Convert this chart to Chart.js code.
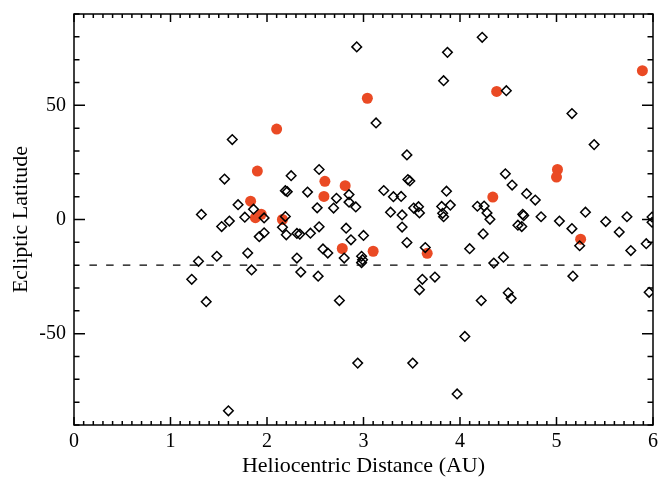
<!DOCTYPE html>
<html>
<head>
<meta charset="utf-8">
<script src="https://cdn.jsdelivr.net/npm/chart.js@4/dist/chart.umd.min.js"></script>
<style>
  html, body { margin: 0; padding: 0; background: #fff; }
  #wrap { width: 662px; height: 479px; position: relative; }
</style>
</head>
<body>
<div id="wrap"><canvas id="latChart"></canvas></div>
<script>
// comets without activity (open diamonds)
const diamondX = [1.64, 1.56, 2.25, 2.19, 2.21, 1.32, 1.70, 1.86, 1.77, 1.61, 1.53, 1.97, 2.19, 2.16, 2.20,
  1.97, 1.92, 2.31, 2.34, 2.45, 2.54, 1.48, 1.80, 1.29, 2.31, 1.84, 1.22, 2.35, 1.37, 1.60,
  2.53, 2.54, 2.42, 2.85, 2.72, 2.85, 2.92, 2.69, 2.52, 2.82, 3.00, 2.87, 2.58, 2.63, 2.80,
  2.98, 2.99, 2.98, 2.75, 2.94, 2.93, 3.13, 3.45, 3.46, 3.48, 3.21, 3.31, 3.39, 3.28, 3.40,
  3.40, 3.45, 3.52, 3.57, 3.58, 3.64, 3.61, 3.58, 3.74, 3.51, 3.87, 3.83, 3.86, 3.81, 3.90,
  3.82, 3.83, 3.97, 4.05, 4.10, 4.23, 4.18, 4.25, 4.28, 4.31, 4.24, 4.22, 4.35, 4.45, 4.47,
  4.54, 4.48, 4.50, 4.53, 4.69, 4.78, 4.65, 4.66, 4.60, 4.64, 4.84, 5.03, 5.16, 5.16, 5.39,
  5.30, 5.24, 5.17, 5.51, 5.65, 5.73, 5.77, 5.93, 5.99, 5.99, 5.96];
const diamondY = [35.0, 17.7, 19.2, 12.6, 12.2, 2.2, 6.5, 4.5, 1.0, -0.7, -3.1, 0.7, 1.3, -3.4, -6.7,
  -5.8, -7.5, -6.1, -6.4, -6.0, -3.2, -16.1, -14.7, -18.3, -16.9, -22.1, -26.2, -23.0, -36.0, -83.8,
  -24.8, 21.9, 12.0, 10.9, 9.3, 7.6, 5.5, 5.0, 5.1, -3.8, -7.0, -8.9, -12.9, -14.7, -16.9,
  -16.1, -17.6, -18.9, -35.5, -62.9, 75.6, 42.3, 28.3, 17.5, 16.9, 12.7, 10.0, 10.1, 3.2, 2.0,
  -3.3, -10.1, 5.0, 5.6, 2.9, -12.3, -26.2, -30.8, -25.2, -62.9, 73.2, 60.8, 12.4, 5.7, 6.3,
  2.7, 1.2, -76.4, -51.2, -12.8, 79.8, 5.8, 5.9, 2.9, 0.1, -6.3, -35.5, -19.1, -16.5, 20.0,
  15.1, 56.4, -32.1, -34.5, 11.3, 8.5, 2.3, 1.7, -2.5, -3.1, 1.2, -0.7, -4.0, 46.4, 32.8,
  3.2, -11.5, -24.8, -0.9, -5.5, 1.2, -13.6, -10.6, 1.1, -1.2, -31.9];

// active comets (filled red circles)
const redX = [1.90, 1.83, 1.94, 1.88, 2.10, 3.04, 2.60, 2.59, 2.81, 2.16, 2.78, 3.10, 3.66, 4.38, 5.89, 5.01, 5.00, 4.34, 5.25];
const redY = [21.2, 8.0, 2.3, 0.8, 39.6, 53.1, 16.7, 10.1, 14.8, 0.0, -12.7, -13.9, -14.8, 56.1, 65.2, 21.9, 18.6, 9.8, -8.6];

const cutLatitude = -20;
const cutRange = [0.16, 6];

const xTickValues = [0, 1, 2, 3, 4, 5, 6];
const yTickValues = [-50, 0, 50];
const xLimits = [0, 6];
const yLimits = [-90, 90];

const fontFamily = "'Liberation Serif', 'Times New Roman', serif";

// IDL style frame: box with inward major/minor ticks on all four sides
const frameTicks = {
    id: 'frameTicks',
    afterDraw(chart) {
        const { ctx, chartArea: a, scales: { x, y } } = chart;
        ctx.save();
        ctx.strokeStyle = '#000';
        ctx.lineWidth = 1.5;
        ctx.strokeRect(a.left, a.top, a.right - a.left, a.bottom - a.top);

        ctx.beginPath();
        // x ticks, minor every 0.1
        for (let i = 0; i <= 60; i++) {
            const v = i / 10;
            const px = x.getPixelForValue(v);
            const len = (i % 10 === 0) ? 8 : 4;
            ctx.moveTo(px, a.bottom); ctx.lineTo(px, a.bottom - len);
            ctx.moveTo(px, a.top); ctx.lineTo(px, a.top + len);
        }
        // y ticks, minor every 10
        for (let v = -90; v <= 90; v += 10) {
            const py = y.getPixelForValue(v);
            const len = (v % 50 === 0) ? 11 : 5.5;
            ctx.moveTo(a.left, py); ctx.lineTo(a.left + len, py);
            ctx.moveTo(a.right, py); ctx.lineTo(a.right - len, py);
        }
        ctx.stroke();
        ctx.restore();
    }
};

const ctx = document.getElementById('latChart').getContext('2d');
new Chart(ctx, {
    type: 'scatter',
    data: {
        datasets: [{
            type: 'line',
            label: 'cut',
            data: cutRange.map(v => ({ x: v, y: cutLatitude })),
            borderColor: '#000',
            borderWidth: 1.3,
            borderDash: [7.5, 9.2],
            pointRadius: 0,
            fill: false
        }, {
            label: 'inactive',
            data: diamondX.map((v, i) => ({ x: v, y: diamondY[i] })),
            pointStyle: 'rectRot',
            pointRadius: 4.8,
            pointBorderWidth: 1.5,
            borderColor: '#000',
            backgroundColor: 'rgba(0,0,0,0)'
        }, {
            label: 'active',
            data: redX.map((v, i) => ({ x: v, y: redY[i] })),
            pointStyle: 'circle',
            pointRadius: 5.5,
            borderWidth: 0,
            backgroundColor: '#EA4A24'
        }]
    },
    options: {
        responsive: true,
        maintainAspectRatio: false,
        animation: false,
        events: [],
        layout: { padding: { top: 14, right: 9, bottom: 0, left: 0 } },
        plugins: {
            legend: { display: false },
            tooltip: { enabled: false }
        },
        scales: {
            x: {
                type: 'linear',
                min: xLimits[0],
                max: xLimits[1],
                afterBuildTicks: s => { s.ticks = xTickValues.map(v => ({ value: v })); },
                afterFit: s => { s.height = 54; s.paddingLeft = 0; s.paddingRight = 0; },
                grid: { display: false, drawTicks: false },
                border: { display: false },
                ticks: { color: '#000', padding: 5, font: { family: fontFamily, size: 20 } },
                title: {
                    display: true,
                    text: 'Heliocentric Distance (AU)',
                    color: '#000',
                    padding: { top: 0, bottom: 0 },
                    font: { family: fontFamily, size: 22 }
                }
            },
            y: {
                type: 'linear',
                min: yLimits[0],
                max: yLimits[1],
                afterBuildTicks: s => { s.ticks = yTickValues.map(v => ({ value: v })); },
                afterFit: s => { s.width = 74; s.paddingTop = 0; s.paddingBottom = 0; },
                grid: { display: false, drawTicks: false },
                border: { display: false },
                ticks: { color: '#000', padding: 8, font: { family: fontFamily, size: 20 } },
                title: {
                    display: true,
                    text: 'Ecliptic Latitude',
                    color: '#000',
                    padding: { top: 8, bottom: 0 },
                    font: { family: fontFamily, size: 22 }
                }
            }
        }
    },
    plugins: [frameTicks]
});
</script>
</body>
</html>
